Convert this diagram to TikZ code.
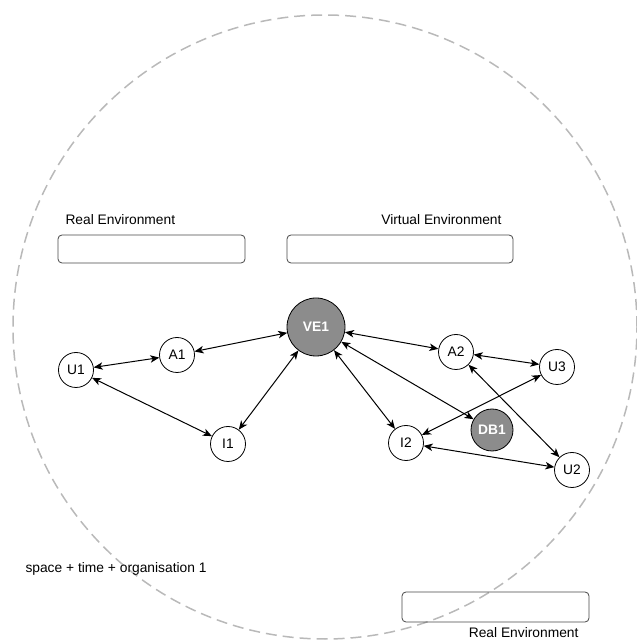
\documentclass[tikz,border=0pt]{standalone}
\usepackage{fontspec}
\setmainfont{Liberation Sans}
\usepackage{tikz}
\usetikzlibrary{calc,backgrounds,positioning,arrows.meta}
\definecolor{nodegray}{RGB}{140,140,140}
\definecolor{dashgray}{RGB}{185,185,185}
\definecolor{boxgray}{RGB}{70,70,70}
\tikzstyle{env}=[
  >={Stealth[length=9pt,width=7.5pt,inset=2.5pt]}, font=\fontsize{13.8}{16}\selectfont, line width=1pt
]
\tikzstyle{agent}=[
  draw,circle,inner sep=0pt,fill=white,minimum size=35pt,line width=0.8pt
]
\tikzstyle{hub}=[
  agent,fill=nodegray,text=white,font=\fontsize{13.8}{16}\selectfont\bfseries
]
\tikzstyle{envbox}=[
  draw=boxgray,rounded corners=4pt,minimum height=28pt,line width=0.8pt
]
\tikzstyle{link}=[
  <->, line width=1pt
]
\tikzstyle{border}=[
  dashgray, dashed, dash pattern=on 11pt off 6pt, line width=1.5pt
]

\begin{document}
\begin{tikzpicture}[env]
    \useasboundingbox (0,0) rectangle (637pt,641pt);
      \draw [border] (325pt,314pt) circle (312pt);
      \node (ve1) at (316pt,314pt) [hub,minimum size=58pt] {VE1};
      \node (a1) at ($(ve1) + (-139pt, -28pt)$) [agent] {A1};
      \node (u1) at ($(ve1) + (-240pt, -43pt)$) [agent] {U1};
      \node (i1) at ($(ve1) + (-88pt, -117pt)$) [agent] {I1};
      \node (a2) at ($(ve1) + (140pt, -25pt)$) [agent] {A2};
      \node (u3) at ($(ve1) + (241pt, -40pt)$) [agent] {U3};
      \node (db1) at ($(ve1) + (176pt, -103pt)$) [hub,minimum size=42pt] {DB1};
      \node (i2) at ($(ve1) + (90pt, -116pt)$) [agent] {I2};
      \node (u2) at ($(ve1) + (256pt, -143pt)$) [agent] {U2};
      % environment boxes
      \node (realbox) at (151.5pt,392pt) [envbox,minimum width=187pt] {};
      \node (virtbox) at (400pt,392pt) [envbox,minimum width=226pt] {};
      \node (realbox2) at (495.5pt,34pt) [envbox,minimum width=187pt,minimum height=30pt] {};
      \node (reallabel) at (65pt,421pt) [anchor=west,inner sep=0pt] {Real Environment};
      \node (virtlabel) at (502pt,421pt) [anchor=east,inner sep=0pt] {Virtual Environment};
      \node (reallabel2) at (579pt,8pt) [anchor=east,inner sep=0pt] {Real Environment};
      \node (spacelabel) at (25pt,72pt) [anchor=west,inner sep=0pt] {space + time + organisation 1};
    \begin{scope}[on background layer]
      \draw [link] (u1) -- (a1);
      \draw [link] (a1) -- (ve1);
      \draw [link] (u1) -- (i1);
      \draw [link] (i1) -- (ve1);
      \draw [link] (ve1) -- (a2);
      \draw [link] (ve1) -- (i2);
      \draw [link] (ve1) -- (db1);
      \draw [link] (a2) -- (u3);
      \draw [link] (u3) -- (i2);
      \draw [link] (a2) -- (u2);
      \draw [link] (i2) -- (u2);
    \end{scope}
    \end{tikzpicture}
\end{document}
